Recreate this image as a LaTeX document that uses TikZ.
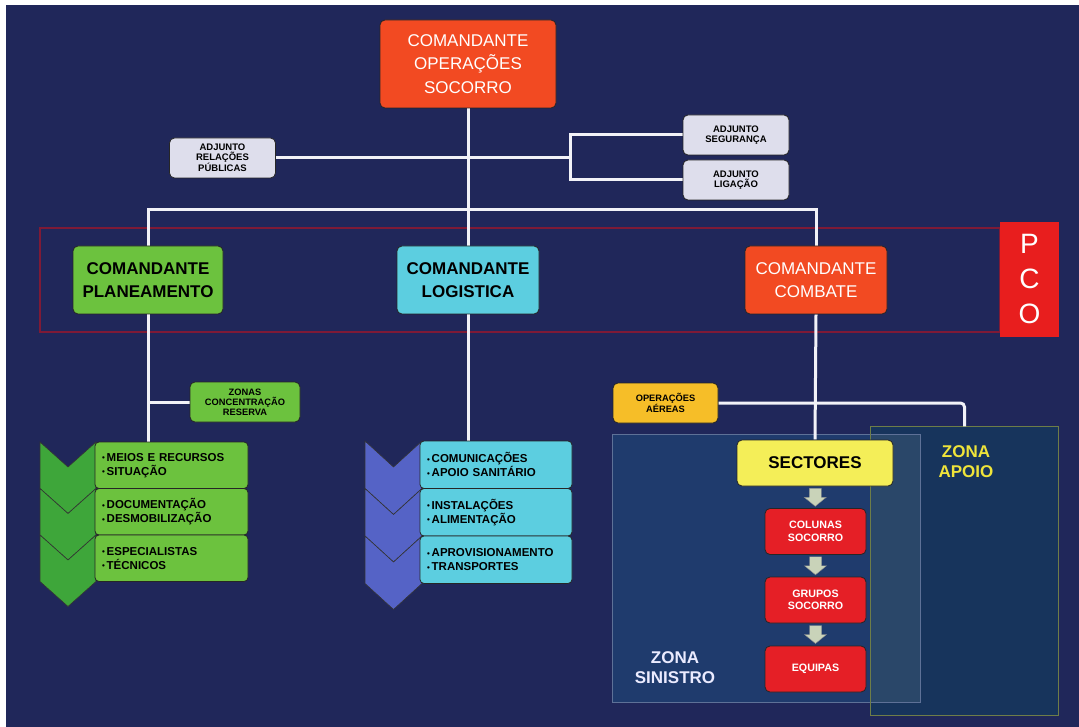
\documentclass[tikz,border=0pt]{standalone}
\usepackage{fontspec}
\setmainfont{Liberation Sans}
\usetikzlibrary{calc}
\pgfdeclarelayer{bg}
\pgfdeclarelayer{wires}
\pgfsetlayers{bg,wires,main}

\definecolor{navy}{HTML}{20275A}
\definecolor{wirec}{HTML}{F2F2F8}
\definecolor{cmdred}{HTML}{F24A22}
\definecolor{planG}{HTML}{6CC23E}
\definecolor{chevG}{HTML}{3EA63A}
\definecolor{logC}{HTML}{5CCEE0}
\definecolor{chevB}{HTML}{5563C6}
\definecolor{adjG}{HTML}{DEDEEC}
\definecolor{pcoR}{HTML}{E81E1E}
\definecolor{bandR}{HTML}{7E1A36}
\definecolor{aerY}{HTML}{F6BE28}
\definecolor{secY}{HTML}{F4EE58}
\definecolor{unitR}{HTML}{E51F26}
\definecolor{arrC}{HTML}{C9D3B9}
\definecolor{zsinF}{HTML}{1F3B6D}
\definecolor{zsinD}{HTML}{5E7197}
\definecolor{zapF}{HTML}{17345C}
\definecolor{zapD}{HTML}{6E7D48}
\definecolor{zovF}{HTML}{2A4769}
\definecolor{apoioY}{HTML}{EFE43A}

\newcommand\setfs[2]{\fontsize{#1}{#2}\selectfont}
\newcommand\blt{{\setfs{8}{8}\raisebox{0.6pt}{•}}\,}

\begin{document}
\begin{tikzpicture}[x=1pt,y=-1pt,
  box/.style={draw=black!85, line width=0.8pt, rounded corners=5pt, align=center, inner sep=2pt},
  cmd/.style={box, minimum width=142pt, minimum height=68pt, font=\setfs{17}{23}},
  adj/.style={box, fill=adjG, minimum width=106pt, minimum height=40pt, font=\bfseries\setfs{9.5}{9.5}},
  listG/.style={box, fill=planG, rounded corners=4pt, minimum width=153pt, minimum height=46.5pt,
    text width=139pt, inner xsep=7pt, align=left, font=\bfseries\setfs{11.5}{14}},
  listB/.style={listG, fill=logC, minimum width=152pt, minimum height=47.5pt, text width=138pt},
  unit/.style={box, fill=unitR, text=white, minimum width=101pt, minimum height=46pt, font=\bfseries\setfs{10.7}{12.5}},
  wire/.style={draw=wirec, line width=3pt},
  chev/.style={draw=black!80, line width=0.6pt},
  downarr/.style={fill=arrC, draw=black!45, line width=0.4pt},
  zone/.style={inner sep=0pt, line width=1.5pt}
]

% ---- background and zones
\begin{pgfonlayer}{bg}
  \fill[white] (0,0) rectangle (1079,727);
  \fill[navy] (6,5) rectangle (1079,727);
  % PCO band
  \draw[bandR, line width=1.3pt] (40,228) rectangle (1000,332);
  % zones
  \node[zone, fill=zapF, minimum width=187pt, minimum height=288pt] (zap) at (964.5,571) {};
  \node[zone, fill=zsinF, minimum width=307pt, minimum height=267pt] (zsin) at (766.5,568.5) {};
  \fill[zovF] (zap.west |- zsin.north) rectangle (zsin.south east);
  \draw[zsinD, line width=1.3pt] (zsin.north west) rectangle (zsin.south east);
  \draw[zapD, line width=1.3pt] (zap.north west) rectangle (zap.south east);
\end{pgfonlayer}

% ---- command boxes
\node[box, fill=cmdred, text=white, minimum width=176pt, minimum height=88pt,
      font=\setfs{17}{23.5}] (cos) at (468,64) {COMANDANTE\\OPERAÇÕES\\SOCORRO};

\node[adj] (rp)  at (222.5,158) {ADJUNTO\\RELAÇÕES\\PÚBLICAS};
\node[adj] (seg) at (736,135) {ADJUNTO\\SEGURANÇA};
\node[adj] (lig) at (736,180) {ADJUNTO\\LIGAÇÃO};

\node[cmd, fill=planG, font=\bfseries\setfs{17}{23}, minimum width=150pt] (plan) at (148,280) {COMANDANTE\\PLANEAMENTO};
\node[cmd, fill=logC, font=\bfseries\setfs{17}{23}] (log) at (468,280) {COMANDANTE\\LOGISTICA};
\node[cmd, fill=cmdred, text=white] (comb) at (816,280) {COMANDANTE\\COMBATE};

\node[fill=pcoR, text=white, minimum width=59pt, minimum height=115pt, inner sep=0pt,
      align=center, font=\setfs{28}{35}] (pco) at (1029.5,279.5) {P\\C\\O};

% ---- planning branch
\node[adj, fill=planG, minimum width=110pt, font=\bfseries\setfs{9.3}{10}] (zcr) at (245,402) {ZONAS\\CONCENTRAÇÃO\\RESERVA};

\foreach \i in {0,1,2}{
  \pgfmathsetmacro\t{442+46.5*\i}
  \draw[chev, fill=chevG] (40,\t) -- (68,\t+25) -- (96,\t) -- (96,\t+46.5) -- (68,\t+71.5) -- (40,\t+46.5) -- cycle;
}
\node[listG] (g1) at (171.5,465.25) {\blt MEIOS E RECURSOS\\\blt SITUAÇÃO};
\node[listG] (g2) at (171.5,511.75) {\blt DOCUMENTAÇÃO\\\blt DESMOBILIZAÇÃO};
\node[listG] (g3) at (171.5,558.25) {\blt ESPECIALISTAS\\\blt TÉCNICOS};

% ---- logistics branch
\foreach \i in {0,1,2}{
  \pgfmathsetmacro\t{441+47.5*\i}
  \draw[chev, fill=chevB] (365,\t) -- (393.5,\t+26) -- (422,\t) -- (422,\t+47.5) -- (393.5,\t+73.5) -- (365,\t+47.5) -- cycle;
}
\node[listB] (l1) at (496,464.75) {\blt COMUNICAÇÕES\\\blt APOIO SANITÁRIO};
\node[listB] (l2) at (496,512.25) {\blt INSTALAÇÕES\\\blt ALIMENTAÇÃO};
\node[listB] (l3) at (496,559.75) {\blt APROVISIONAMENTO\\\blt TRANSPORTES};

% ---- combat branch
\node[adj, fill=aerY, minimum width=105pt, font=\bfseries\setfs{9.3}{10}] (aer) at (665.5,403) {OPERAÇÕES\\AÉREAS};
\node[box, fill=secY, minimum width=156pt, minimum height=46pt, font=\bfseries\setfs{17}{20}] (sect) at (815,463) {SECTORES};
\node[unit] (col) at (815.5,531.5) {COLUNAS\\SOCORRO};
\node[unit] (grp) at (815.5,600) {GRUPOS\\SOCORRO};
\node[unit] (eqp) at (815.5,669) {EQUIPAS};

\node[text=white!92!blue, align=center, font=\bfseries\setfs{17}{20}] (zsinlbl) at (675,668) {ZONA\\SINISTRO};
\node[text=apoioY, align=center, font=\bfseries\setfs{17}{20}] (zaplbl) at (966,462) {ZONA\\APOIO};

% ---- flow arrows between combat units
\coordinate (a1) at ($(sect.south)!0.5!(col.north)$);
\coordinate (a2) at ($(col.south)!0.5!(grp.north)$);
\coordinate (a3) at ($(grp.south)!0.5!(eqp.north)$);
\foreach \a in {a1,a2,a3}{
  \draw[downarr, shift={(\a)}] (-6,-9) -- (6,-9) -- (6,0) -- (11,0) -- (0,9) -- (-11,0) -- (-6,0) -- cycle;
}

% ---- connectors
\coordinate (bar) at (0,210);
\coordinate (brk) at (570,0);
\begin{pgfonlayer}{wires}
  \draw[wire] (cos.south) -- (log.north);
  \draw[wire] (plan.north) -- (plan.north |- bar) -- (comb.north |- bar) -- (comb.north);
  \draw[wire] (rp.east) -- (rp.east -| brk);
  \draw[wire] (seg.west) -- (seg.west -| brk) -- (lig.west -| brk) -- (lig.west);
  \draw[wire] (plan.south) -- (plan.south |- g1.north);
  \draw[wire] (zcr.west) -- (zcr.west -| plan.south);
  \draw[wire] (log.south) -- (log.south |- l1.north);
  \draw[wire] (comb.south) -- (sect.north);
  \draw[wire, rounded corners=4pt] (aer.east) -- (aer.east -| zap.north) -- (zap.north);
\end{pgfonlayer}
\end{tikzpicture}
\end{document}
